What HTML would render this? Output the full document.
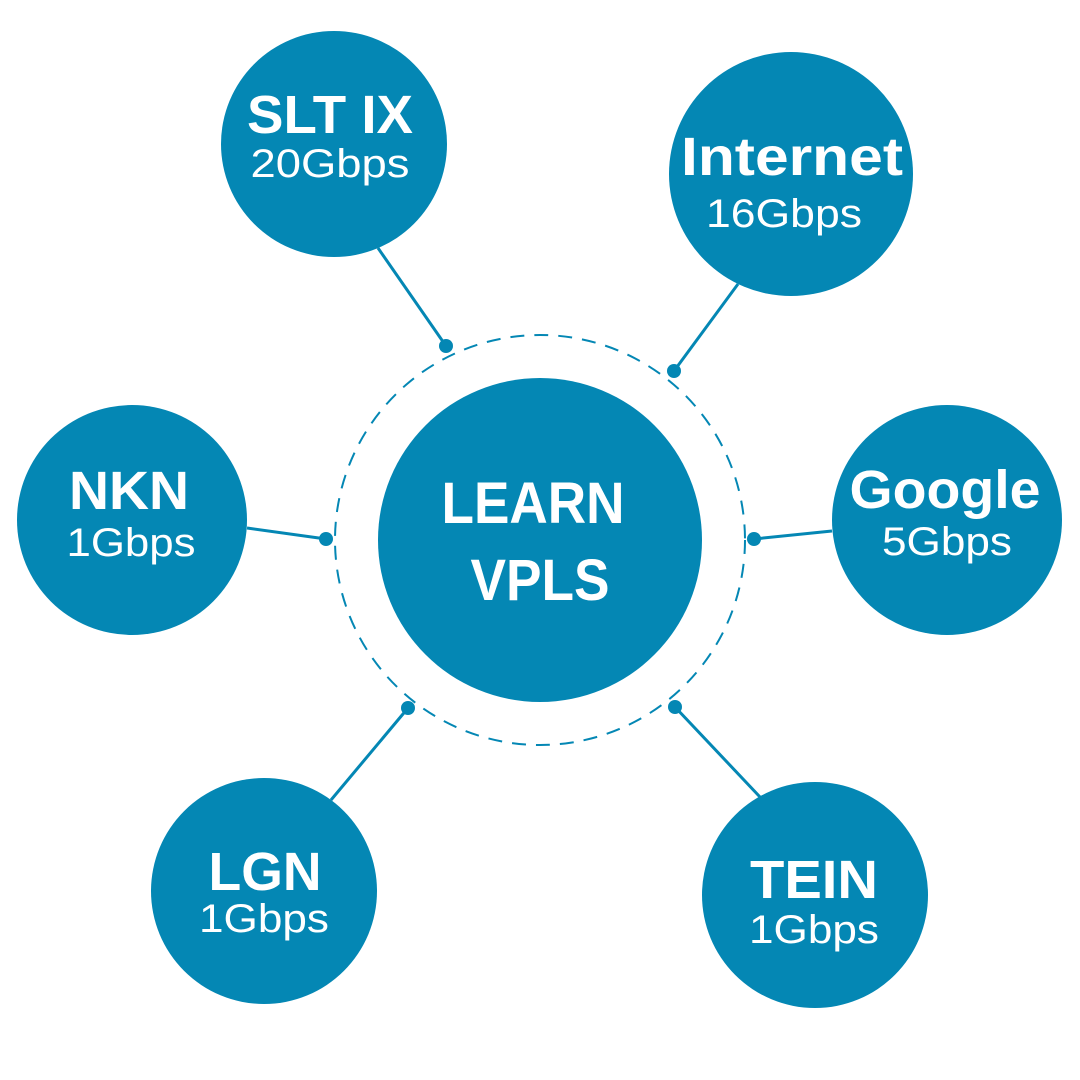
<!DOCTYPE html>
<html><head><meta charset="utf-8"><style>
html,body{margin:0;padding:0;background:#fff;}
svg{display:block;}
text{font-family:"Liberation Sans","DejaVu Sans",sans-serif;fill:#fff;text-anchor:middle;}
.b{font-weight:bold;}
</style></head><body>
<svg width="1080" height="1080" viewBox="0 0 1080 1080" xmlns="http://www.w3.org/2000/svg">
<g stroke="#0487b4" stroke-width="3" fill="none">
<circle cx="540" cy="540" r="205" stroke-width="2" stroke-dasharray="14 10"/>
<line x1="378" y1="248" x2="446" y2="346"/>
<line x1="738" y1="284" x2="674" y2="371"/>
<line x1="247" y1="528" x2="326" y2="539"/>
<line x1="832" y1="531" x2="754" y2="539"/>
<line x1="331" y1="800" x2="408" y2="708"/>
<line x1="760" y1="797" x2="675" y2="707"/>
</g>
<g fill="#0487b4">
<circle cx="446" cy="346" r="7"/>
<circle cx="674" cy="371" r="7"/>
<circle cx="326" cy="539" r="7"/>
<circle cx="754" cy="539" r="7"/>
<circle cx="408" cy="708" r="7"/>
<circle cx="675" cy="707" r="7"/>
<circle cx="540" cy="540" r="162"/>
<circle cx="334" cy="144" r="113"/>
<circle cx="791" cy="174" r="122"/>
<circle cx="132" cy="520" r="115"/>
<circle cx="947" cy="520" r="115"/>
<circle cx="264" cy="891" r="113"/>
<circle cx="815" cy="895" r="113"/>
</g>
<text class="b" x="533" y="523" font-size="58" textLength="183" lengthAdjust="spacingAndGlyphs">LEARN</text>
<text class="b" x="540" y="600" font-size="58" textLength="139" lengthAdjust="spacingAndGlyphs">VPLS</text>
<text class="b" x="330" y="133" font-size="54" textLength="166" lengthAdjust="spacingAndGlyphs">SLT IX</text>
<text x="330" y="177" font-size="40" textLength="159" lengthAdjust="spacingAndGlyphs">20Gbps</text>
<text class="b" x="792" y="175" font-size="54" textLength="222" lengthAdjust="spacingAndGlyphs">Internet</text>
<text x="784" y="227" font-size="40" textLength="156" lengthAdjust="spacingAndGlyphs">16Gbps</text>
<text class="b" x="129" y="509" font-size="54" textLength="120" lengthAdjust="spacingAndGlyphs">NKN</text>
<text x="131" y="556" font-size="40" textLength="129" lengthAdjust="spacingAndGlyphs">1Gbps</text>
<text class="b" x="945" y="508" font-size="54" textLength="191" lengthAdjust="spacingAndGlyphs">Google</text>
<text x="947" y="555" font-size="40" textLength="130" lengthAdjust="spacingAndGlyphs">5Gbps</text>
<text class="b" x="265" y="890" font-size="54" textLength="113" lengthAdjust="spacingAndGlyphs">LGN</text>
<text x="264" y="932" font-size="40" textLength="130" lengthAdjust="spacingAndGlyphs">1Gbps</text>
<text class="b" x="814" y="898" font-size="54" textLength="128" lengthAdjust="spacingAndGlyphs">TEIN</text>
<text x="814" y="943" font-size="40" textLength="130" lengthAdjust="spacingAndGlyphs">1Gbps</text>
</svg>
</body></html>
